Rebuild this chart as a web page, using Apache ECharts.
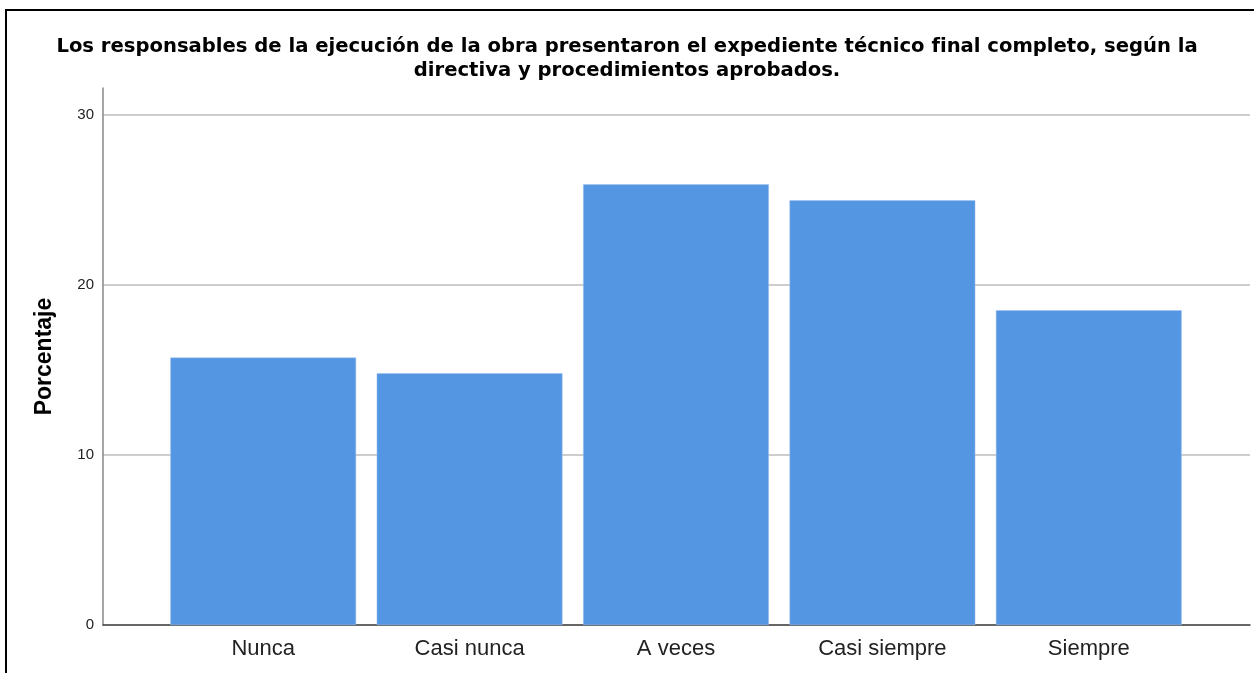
<!DOCTYPE html>
<html lang="es">
<head>
    <meta charset="UTF-8">
    <title>Porcentaje</title>
    <script src="https://cdn.jsdelivr.net/npm/echarts@6/dist/echarts.min.js"></script>
    <style>
        html, body { margin: 0; padding: 0; background: #fff; }
        #frame { position: absolute; left: 5px; top: 9px; right: -10px; bottom: -10px;
                 border-left: 2px solid #000; border-top: 2px solid #000; }
        #chart1 { position: absolute; left: 0; top: 0; width: 1254px; height: 673px; }
    </style>
</head>
<body>
<div id="frame"></div>
<div id="chart1"></div>
<script>
    // datos
    var categorias = ['Nunca', 'Casi nunca', 'A veces', 'Casi siempre', 'Siempre'];
    var porcentajes = [15.74, 14.81, 25.93, 25.0, 18.52];
    var ticksY = [0, 10, 20, 30];

    var titulo = 'Los responsables de la ejecución de la obra presentaron el expediente técnico final completo, según la\ndirectiva y procedimientos aprobados.';
    var fuente = '"Liberation Sans", Arial, sans-serif';
    var yMax = 31.6;

    var myChart = echarts.init(document.getElementById('chart1'));
    var option = {
        animation: false,
        title: {
            text: titulo,
            left: 'center',
            top: 30,
            textStyle: { fontFamily: '"DejaVu Sans", sans-serif', fontSize: 19.6, fontWeight: 'bold', color: '#000', lineHeight: 24, align: 'center' }
        },
        grid: [
            { left: 103, right: 4, top: 88, bottom: 48 },   // marco de ejes
            { left: 160, right: 62, top: 88, bottom: 48 }   // barras
        ],
        xAxis: [{
            gridIndex: 0,
            type: 'value',
            min: 0, max: 1,
            axisLine: { show: true, lineStyle: { color: '#444', width: 1.5 } },
            axisTick: { show: false },
            axisLabel: { show: false },
            splitLine: { show: false }
        }, {
            gridIndex: 1,
            type: 'category',
            data: categorias,
            axisLine: { show: false },
            axisTick: { show: false },
            axisLabel: { fontFamily: fuente, fontSize: 22, color: '#222', margin: 13 }
        }],
        yAxis: [{
            gridIndex: 0,
            type: 'value',
            min: ticksY[0], max: yMax, interval: 10,
            name: 'Porcentaje',
            nameLocation: 'middle',
            nameGap: 47,
            nameTextStyle: { fontFamily: fuente, fontSize: 23, fontWeight: 'bold', color: '#000' },
            axisLine: { show: true, lineStyle: { color: '#888', width: 1.5 } },
            axisTick: { show: false },
            axisLabel: {
                fontFamily: fuente, fontSize: 15, color: '#222', margin: 9,
                showMaxLabel: false,
                padding: [3, 0, 0, 0],
                formatter: function (v) { return ticksY.indexOf(v) >= 0 ? v : ''; }
            },
            splitLine: { show: true, showMaxLine: false, lineStyle: { color: '#bdbdbd', width: 1.5 } }
        }, {
            gridIndex: 1,
            type: 'value',
            min: ticksY[0], max: yMax,
            show: false
        }],
        series: [{
            name: 'Porcentaje',
            type: 'bar',
            xAxisIndex: 1,
            yAxisIndex: 1,
            barCategoryGap: '10%',
            itemStyle: { color: '#5596e3', borderColor: '#9cc1ef', borderWidth: 0.5 },
            data: porcentajes
        }]
    };
    myChart.setOption(option);
</script>
</body>
</html>
